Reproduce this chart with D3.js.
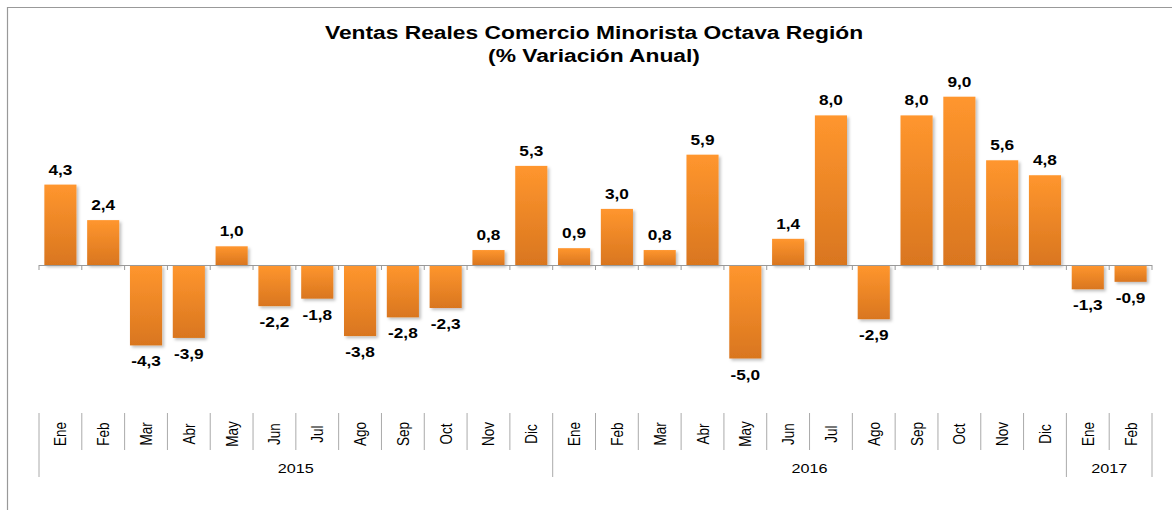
<!DOCTYPE html>
<html>
<head>
<meta charset="utf-8">
<script src="https://cdn.jsdelivr.net/npm/d3@7"></script>
<style>
  body { margin: 0; background: #fff; }
  text { font-family: Arial, "Liberation Sans", sans-serif; }
</style>
</head>
<body>
<div id="chart"></div>
<script>
// data
var years = ["2015", "2016", "2017"];
var months = ["Ene","Feb","Mar","Abr","May","Jun","Jul","Ago","Sep","Oct","Nov","Dic",
              "Ene","Feb","Mar","Abr","May","Jun","Jul","Ago","Sep","Oct","Nov","Dic",
              "Ene","Feb"];
var monthYear = [0,0,0,0,0,0,0,0,0,0,0,0, 1,1,1,1,1,1,1,1,1,1,1,1, 2,2];
var values = [4.3, 2.4, -4.3, -3.9, 1.0, -2.2, -1.8, -3.8, -2.8, -2.3, 0.8, 5.3,
              0.9, 3.0, 0.8, 5.9, -5.0, 1.4, 8.0, -2.9, 8.0, 9.0, 5.6, 4.8,
              -1.3, -0.9];

function init(){
    var w = 1172;
    var h = 510;
    var sx = 1.2; // text in the original is stretched horizontally

    var svg = d3.select("#chart")
                .append("svg")
                .attr("width", w)
                .attr("height", h);

    var defs = svg.append("defs");
    var grad = defs.append("linearGradient")
                .attr("id", "barGrad")
                .attr("x1", 0).attr("y1", 0).attr("x2", 0).attr("y2", 1);
    grad.append("stop").attr("offset", "0%").attr("stop-color", "#ff962e");
    grad.append("stop").attr("offset", "100%").attr("stop-color", "#d9761f");

    var shadow = defs.append("filter").attr("id", "shadow")
                .attr("x", "-20%").attr("y", "-20%").attr("width", "150%").attr("height", "150%");
    shadow.append("feDropShadow")
        .attr("dx", 2).attr("dy", 2).attr("stdDeviation", 1.5)
        .attr("flood-color", "#000").attr("flood-opacity", 0.25);

    // outer frame
    svg.append("path")
        .attr("d", "M7.5," + h + " L7.5,7.5 L" + w + ",7.5")
        .attr("fill", "none")
        .attr("stroke", "#999")
        .attr("stroke-width", 1.2);

    // title
    var titles = ["Ventas Reales Comercio Minorista Octava Región", "(% Variación Anual)"];
    svg.selectAll("text.title")
        .data(titles)
        .enter()
        .append("text")
        .attr("class", "title")
        .attr("transform", function(d, i){ return "translate(594," + (39 + i * 23) + ") scale(" + sx + ",1)"; })
        .attr("text-anchor", "middle")
        .style("font-size", "19px").style("font-weight", "bold")
        .text(function(d){ return d; });

    var x = d3.scaleBand()
                .domain(d3.range(values.length))
                .range([39, 1152])
                .paddingInner(0.25)
                .paddingOuter(0.125);

    var y = d3.scaleLinear()
                .domain([-10, 10])
                .range([452, 78]);

    var step = x.step();
    var x0 = 39;

    // bars
    svg.selectAll("rect.bar")
        .data(values)
        .enter()
        .append("rect")
        .attr("class", "bar")
        .attr("x", function(d, i){ return x(i); })
        .attr("y", function(d){ return d >= 0 ? y(d) : y(0); })
        .attr("width", x.bandwidth())
        .attr("height", function(d){ return Math.abs(y(d) - y(0)); })
        .attr("fill", "url(#barGrad)")
        .attr("filter", "url(#shadow)");

    // zero line and ticks
    svg.append("line")
        .attr("x1", x0).attr("x2", 1152)
        .attr("y1", y(0) + 0.5).attr("y2", y(0) + 0.5)
        .attr("stroke", "#999").attr("stroke-width", 1.2);

    svg.selectAll("line.tick")
        .data(d3.range(values.length + 1))
        .enter()
        .append("line")
        .attr("class", "tick")
        .attr("x1", function(i){ return x0 + i * step; })
        .attr("x2", function(i){ return x0 + i * step; })
        .attr("y1", y(0)).attr("y2", y(0) + 5)
        .attr("stroke", "#999");

    // value labels
    svg.selectAll("text.val")
        .data(values)
        .enter()
        .append("text")
        .attr("class", "val")
        .attr("transform", function(d, i){
            var tx = x(i) + x.bandwidth() / 2;
            var ty = d >= 0 ? y(d) - 10 : y(d) + 21;
            return "translate(" + tx + "," + ty + ") scale(1.15,1)";
        })
        .attr("text-anchor", "middle")
        .style("font-size", "15px").style("font-weight", "bold")
        .text(function(d){ return d.toFixed(1).replace(".", ","); });

    // month labels
    svg.selectAll("text.month")
        .data(months)
        .enter()
        .append("text")
        .attr("class", "month")
        .attr("transform", function(d, i){
            return "translate(" + (x(i) + x.bandwidth() / 2 + 6) + ",434) rotate(-90) scale(1," + sx + ")";
        })
        .attr("text-anchor", "middle")
        .style("font-size", "13.5px")
        .text(function(d){ return d; });

    // month separators
    svg.selectAll("line.msep")
        .data(d3.range(values.length + 1))
        .enter()
        .append("line")
        .attr("class", "msep")
        .attr("x1", function(i){ return x0 + i * step; })
        .attr("x2", function(i){ return x0 + i * step; })
        .attr("y1", 413)
        .attr("y2", function(i){
            var isYear = i === 0 || i === values.length || monthYear[i] !== monthYear[i - 1];
            return isYear ? 477 : 450;
        })
        .attr("stroke", "#aaa");

    // year labels
    svg.selectAll("text.year")
        .data(years)
        .enter()
        .append("text")
        .attr("class", "year")
        .attr("transform", function(d, yi){
            var idx = d3.range(values.length).filter(function(i){ return monthYear[i] === yi; });
            var a = x0 + idx[0] * step;
            var b = x0 + (idx[idx.length - 1] + 1) * step;
            return "translate(" + ((a + b) / 2) + ",473) scale(" + sx + ",1)";
        })
        .attr("text-anchor", "middle")
        .style("font-size", "13.5px")
        .text(function(d){ return d; });
}

window.onload = init;
</script>
</body>
</html>
